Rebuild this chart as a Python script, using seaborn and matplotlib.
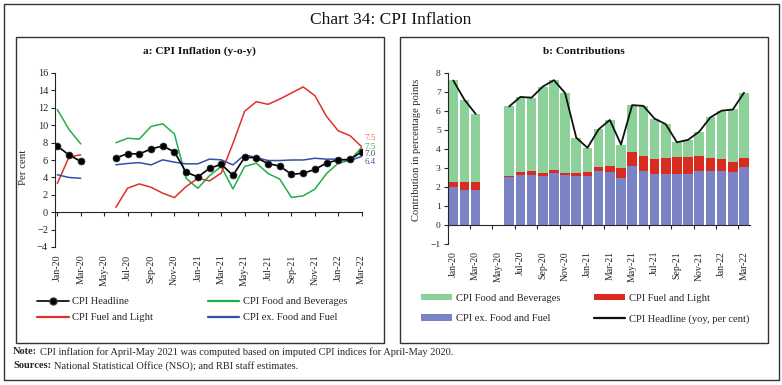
import numpy as np
import pandas as pd
import matplotlib
matplotlib.use("Agg")
import matplotlib.pyplot as plt
import seaborn as sns
from matplotlib.patches import Rectangle, Patch
from matplotlib.lines import Line2D

nan = np.nan
months = ["Jan-20", "Feb-20", "Mar-20", "Apr-20", "May-20", "Jun-20", "Jul-20", "Aug-20",
          "Sep-20", "Oct-20", "Nov-20", "Dec-20", "Jan-21", "Feb-21", "Mar-21", "Apr-21",
          "May-21", "Jun-21", "Jul-21", "Aug-21", "Sep-21", "Oct-21", "Nov-21", "Dec-21",
          "Jan-22", "Feb-22", "Mar-22"]

# Panel a: y-o-y inflation (per cent)
headline = [7.59, 6.58, 5.84, nan, nan, 6.23, 6.73, 6.69, 7.27, 7.61, 6.93, 4.59, 4.06, 5.03,
            5.52, 4.23, 6.30, 6.26, 5.59, 5.30, 4.35, 4.48, 4.91, 5.66, 6.01, 6.07, 6.95]
food_bev = [11.8, 9.5, 7.85, nan, nan, 7.98, 8.5, 8.4, 9.85, 10.16, 9.0, 3.9, 2.75, 4.2,
            5.25, 2.68, 5.25, 5.64, 4.45, 3.8, 1.7, 1.88, 2.65, 4.45, 5.64, 5.94, 7.47]
fuel_light = [3.3, 6.36, 6.59, nan, nan, 0.55, 2.76, 3.25, 2.87, 2.19, 1.68, 2.95, 3.9, 3.6,
              4.5, 7.9, 11.6, 12.7, 12.4, 13.0, 13.7, 14.4, 13.4, 11.0, 9.35, 8.8, 7.52]
ex_food_fuel = [4.3, 3.99, 3.9, nan, nan, 5.45, 5.6, 5.7, 5.44, 6.02, 5.75, 5.56, 5.56, 6.1,
                6.02, 5.44, 6.6, 6.28, 5.94, 5.94, 6.0, 6.0, 6.2, 6.1, 6.1, 5.94, 6.42]

# Panel b: contributions (percentage points)
contrib_ex = [2.01, 1.87, 1.87, nan, nan, 2.54, 2.63, 2.66, 2.57, 2.75, 2.66, 2.57, 2.56, 2.84,
              2.80, 2.50, 3.10, 2.85, 2.71, 2.71, 2.71, 2.71, 2.85, 2.85, 2.82, 2.77, 3.03]
contrib_fuel = [0.27, 0.42, 0.42, nan, nan, 0.03, 0.17, 0.19, 0.18, 0.17, 0.09, 0.18, 0.24, 0.22,
                0.32, 0.51, 0.75, 0.79, 0.78, 0.83, 0.88, 0.88, 0.79, 0.69, 0.63, 0.56, 0.51]
contrib_food = [5.32, 4.30, 3.55, nan, nan, 3.66, 3.93, 3.84, 4.52, 4.69, 4.18, 1.84, 1.26, 1.97,
                2.40, 1.22, 2.45, 2.62, 2.10, 1.76, 0.76, 0.89, 1.27, 2.12, 2.56, 2.74, 3.41]

W, H = 782, 385
sns.set_theme(style="ticks")
plt.rcParams["font.family"] = ["Liberation Serif", "DejaVu Serif"]
plt.rcParams["axes.linewidth"] = 0.8

fig = plt.figure(figsize=(W / 100, H / 100), dpi=100)
fig.patch.set_facecolor("white")

def fx(px):
    return px / W

def fy(py):
    return 1 - py / H

# frames
fig.patches.append(Rectangle((fx(3.5), fy(380)), fx(775), 376.5 / H, transform=fig.transFigure,
                             fill=False, lw=1.0, ec="#333333"))
fig.patches.append(Rectangle((fx(15.5), fy(342.5)), fx(368), 305.5 / H, transform=fig.transFigure,
                             fill=False, lw=1.0, ec="#333333"))
fig.patches.append(Rectangle((fx(400), fy(342.5)), fx(367.5), 305.5 / H, transform=fig.transFigure,
                             fill=False, lw=1.0, ec="#333333"))

fig.text(0.5, fy(20), "Chart 34: CPI Inflation", ha="center", va="center", fontsize=12.5,
         color="#111111")
fig.text(fx(199.5), fy(51), "a: CPI Inflation (y-o-y)", ha="center", va="center", fontsize=8.2,
         fontweight="bold", color="#111111")
fig.text(fx(584), fy(51), "b: Contributions", ha="center", va="center", fontsize=8.2,
         fontweight="bold", color="#111111")

idx = np.arange(len(months))
seg = np.where(idx < 3, 0, 1)

# ---------- Panel a ----------
ax1 = fig.add_axes([fx(55), 1 - 247 / H, fx(306.7), 174 / H])
c_food, c_fuel, c_ex = "#1FAF4B", "#E0302A", "#3350A8"
names = ["CPI Headline", "CPI Food and Beverages", "CPI Fuel and Light", "CPI ex. Food and Fuel"]
series = [headline, food_bev, fuel_light, ex_food_fuel]
dfl = pd.concat([pd.DataFrame({"idx": idx, "value": v, "series": n, "seg": seg})
                 for n, v in zip(names, series)]).dropna()

others = dfl[dfl.series != "CPI Headline"]
sns.lineplot(data=others, x="idx", y="value", hue="series", units="seg", estimator=None,
             palette={"CPI Food and Beverages": c_food, "CPI Fuel and Light": c_fuel,
                      "CPI ex. Food and Fuel": c_ex},
             lw=1.1, legend=False, sort=False, ax=ax1)
sns.lineplot(data=dfl[dfl.series == "CPI Headline"], x="idx", y="value", units="seg",
             estimator=None, color="black", lw=1.2, marker="o", markersize=5.0,
             markeredgecolor="#333333", markeredgewidth=0.5, legend=False, sort=False, ax=ax1)

ax1.set_xlim(-0.2, 26)
ax1.set_ylim(-4, 16)
ax1.set_yticks(np.arange(-4, 17, 2))
ax1.set_xticks(idx[::2])
ax1.set_xticklabels(months[::2])
for s in ["top", "right"]:
    ax1.spines[s].set_visible(False)
ax1.spines["bottom"].set_position(("data", 0))
ax1.tick_params(axis="y", labelsize=7.5, length=3, width=0.8, pad=2)
ax1.tick_params(axis="x", labelsize=7.2, length=3, width=0.8, pad=27.5, labelrotation=90)
ax1.set_xlabel("")
ax1.set_ylabel("Per cent", fontsize=7.8)
ax1.yaxis.set_label_coords(-0.088, 0.46)

# end labels
ends = [(fuel_light[-1], "#E8625A", 6.2), (food_bev[-1], c_food, 0.4),
        (headline[-1], "#444444", -1.6), (ex_food_fuel[-1], "#3D5BB0", -3.9)]
for v, tc, dy in ends:
    ax1.annotate(f"{v:.1f}", xy=(26, v), xytext=(2, dy), textcoords="offset points",
                 ha="left", va="center", fontsize=6.4, color=tc, annotation_clip=False)

h_head = Line2D([], [], color="black", lw=1.2, marker="o", markersize=5,
                markeredgecolor="#333333")
h_fuel = Line2D([], [], color=c_fuel, lw=1.6)
h_food = Line2D([], [], color=c_food, lw=1.6)
h_ex = Line2D([], [], color=c_ex, lw=1.6)
fig.legend([h_head, h_fuel, h_food, h_ex],
           ["CPI Headline", "CPI Fuel and Light", "CPI Food and Beverages", "CPI ex. Food and Fuel"],
           ncol=2, loc="upper left", bbox_to_anchor=(fx(37), fy(297)), frameon=False,
           fontsize=7.6, handlelength=3.0, handletextpad=0.3, columnspacing=5.2,
           labelspacing=0.62, borderaxespad=0, borderpad=0)

# ---------- Panel b ----------
ax2 = fig.add_axes([fx(447.7), 1 - 244.3 / H, fx(301.9), 171.6 / H])
g_bar, r_bar, b_bar = "#8CD09A", "#D92B1F", "#7A83C5"
dfr = pd.DataFrame({"idx": idx, "ex": contrib_ex, "fuel": contrib_fuel, "food": contrib_food,
                    "headline": headline}).dropna()
dfr["lvl_fuel"] = dfr["ex"] + dfr["fuel"]
dfr["lvl_food"] = dfr["lvl_fuel"] + dfr["food"]

for col, colr in [("lvl_food", g_bar), ("lvl_fuel", r_bar), ("ex", b_bar)]:
    sns.barplot(data=dfr, x="idx", y=col, native_scale=True, color=colr, saturation=1,
                width=0.86, errorbar=None, linewidth=0, ax=ax2)
dfr["seg"] = np.where(dfr["idx"] < 3, 0, 1)
sns.lineplot(data=dfr, x="idx", y="headline", units="seg", estimator=None, color="#111111",
             lw=1.3, sort=False, legend=False, ax=ax2)

ax2.set_xlim(-0.5, 26.5)
ax2.set_ylim(-1, 8)
ax2.set_yticks(np.arange(-1, 9, 1))
ax2.set_xticks(idx[::2])
ax2.set_xticklabels(months[::2])
ax2.set_xticks(np.arange(-0.5, 26, 2), minor=True)
for s in ["top", "right"]:
    ax2.spines[s].set_visible(False)
ax2.spines["bottom"].set_position(("data", 0))
ax2.tick_params(axis="y", labelsize=6.8, length=3, width=0.8, pad=2)
ax2.tick_params(axis="x", which="major", labelsize=7.0, length=0, pad=18.5, labelrotation=90)
ax2.tick_params(axis="x", which="minor", length=3, width=0.8)
ax2.set_xlabel("")
ax2.set_ylabel("Contribution in percentage points", fontsize=7.6)
ax2.yaxis.set_label_coords(-0.088, 0.55)

hp_food = Patch(facecolor=g_bar, edgecolor="none")
hp_ex = Patch(facecolor=b_bar, edgecolor="none")
hp_fuel = Patch(facecolor=r_bar, edgecolor="none")
h_line = Line2D([], [], color="#111111", lw=1.6)
fig.legend([hp_food, hp_ex, hp_fuel, h_line],
           ["CPI Food and Beverages", "CPI ex. Food and Fuel", "CPI Fuel and Light",
            "CPI Headline (yoy, per cent)"],
           ncol=2, loc="upper left", bbox_to_anchor=(fx(421), fy(294)), frameon=False,
           fontsize=7.6, handlelength=2.9, handleheight=0.55, handletextpad=0.4,
           columnspacing=3.2, labelspacing=1.05, borderaxespad=0, borderpad=0)

# notes
fig.canvas.draw()
r = fig.canvas.get_renderer()
t1 = fig.text(fx(13), fy(352), "Note:", fontsize=7.5, fontweight="bold", va="center", ha="left")
bb = t1.get_window_extent(r)
fig.text(fx(bb.x1 + 2.5), fy(352),
         "CPI inflation for April-May 2021 was computed based on imputed CPI indices for April-May 2020.",
         fontsize=7.5, va="center", ha="left")
t2 = fig.text(fx(13), fy(366), "Sources:", fontsize=7.5, fontweight="bold", va="center", ha="left")
bb2 = t2.get_window_extent(r)
fig.text(fx(bb2.x1 + 2.5), fy(366), "National Statistical Office (NSO); and RBI staff estimates.",
         fontsize=7.5, va="center", ha="left")

fig.savefig("out.png", dpi=100)
